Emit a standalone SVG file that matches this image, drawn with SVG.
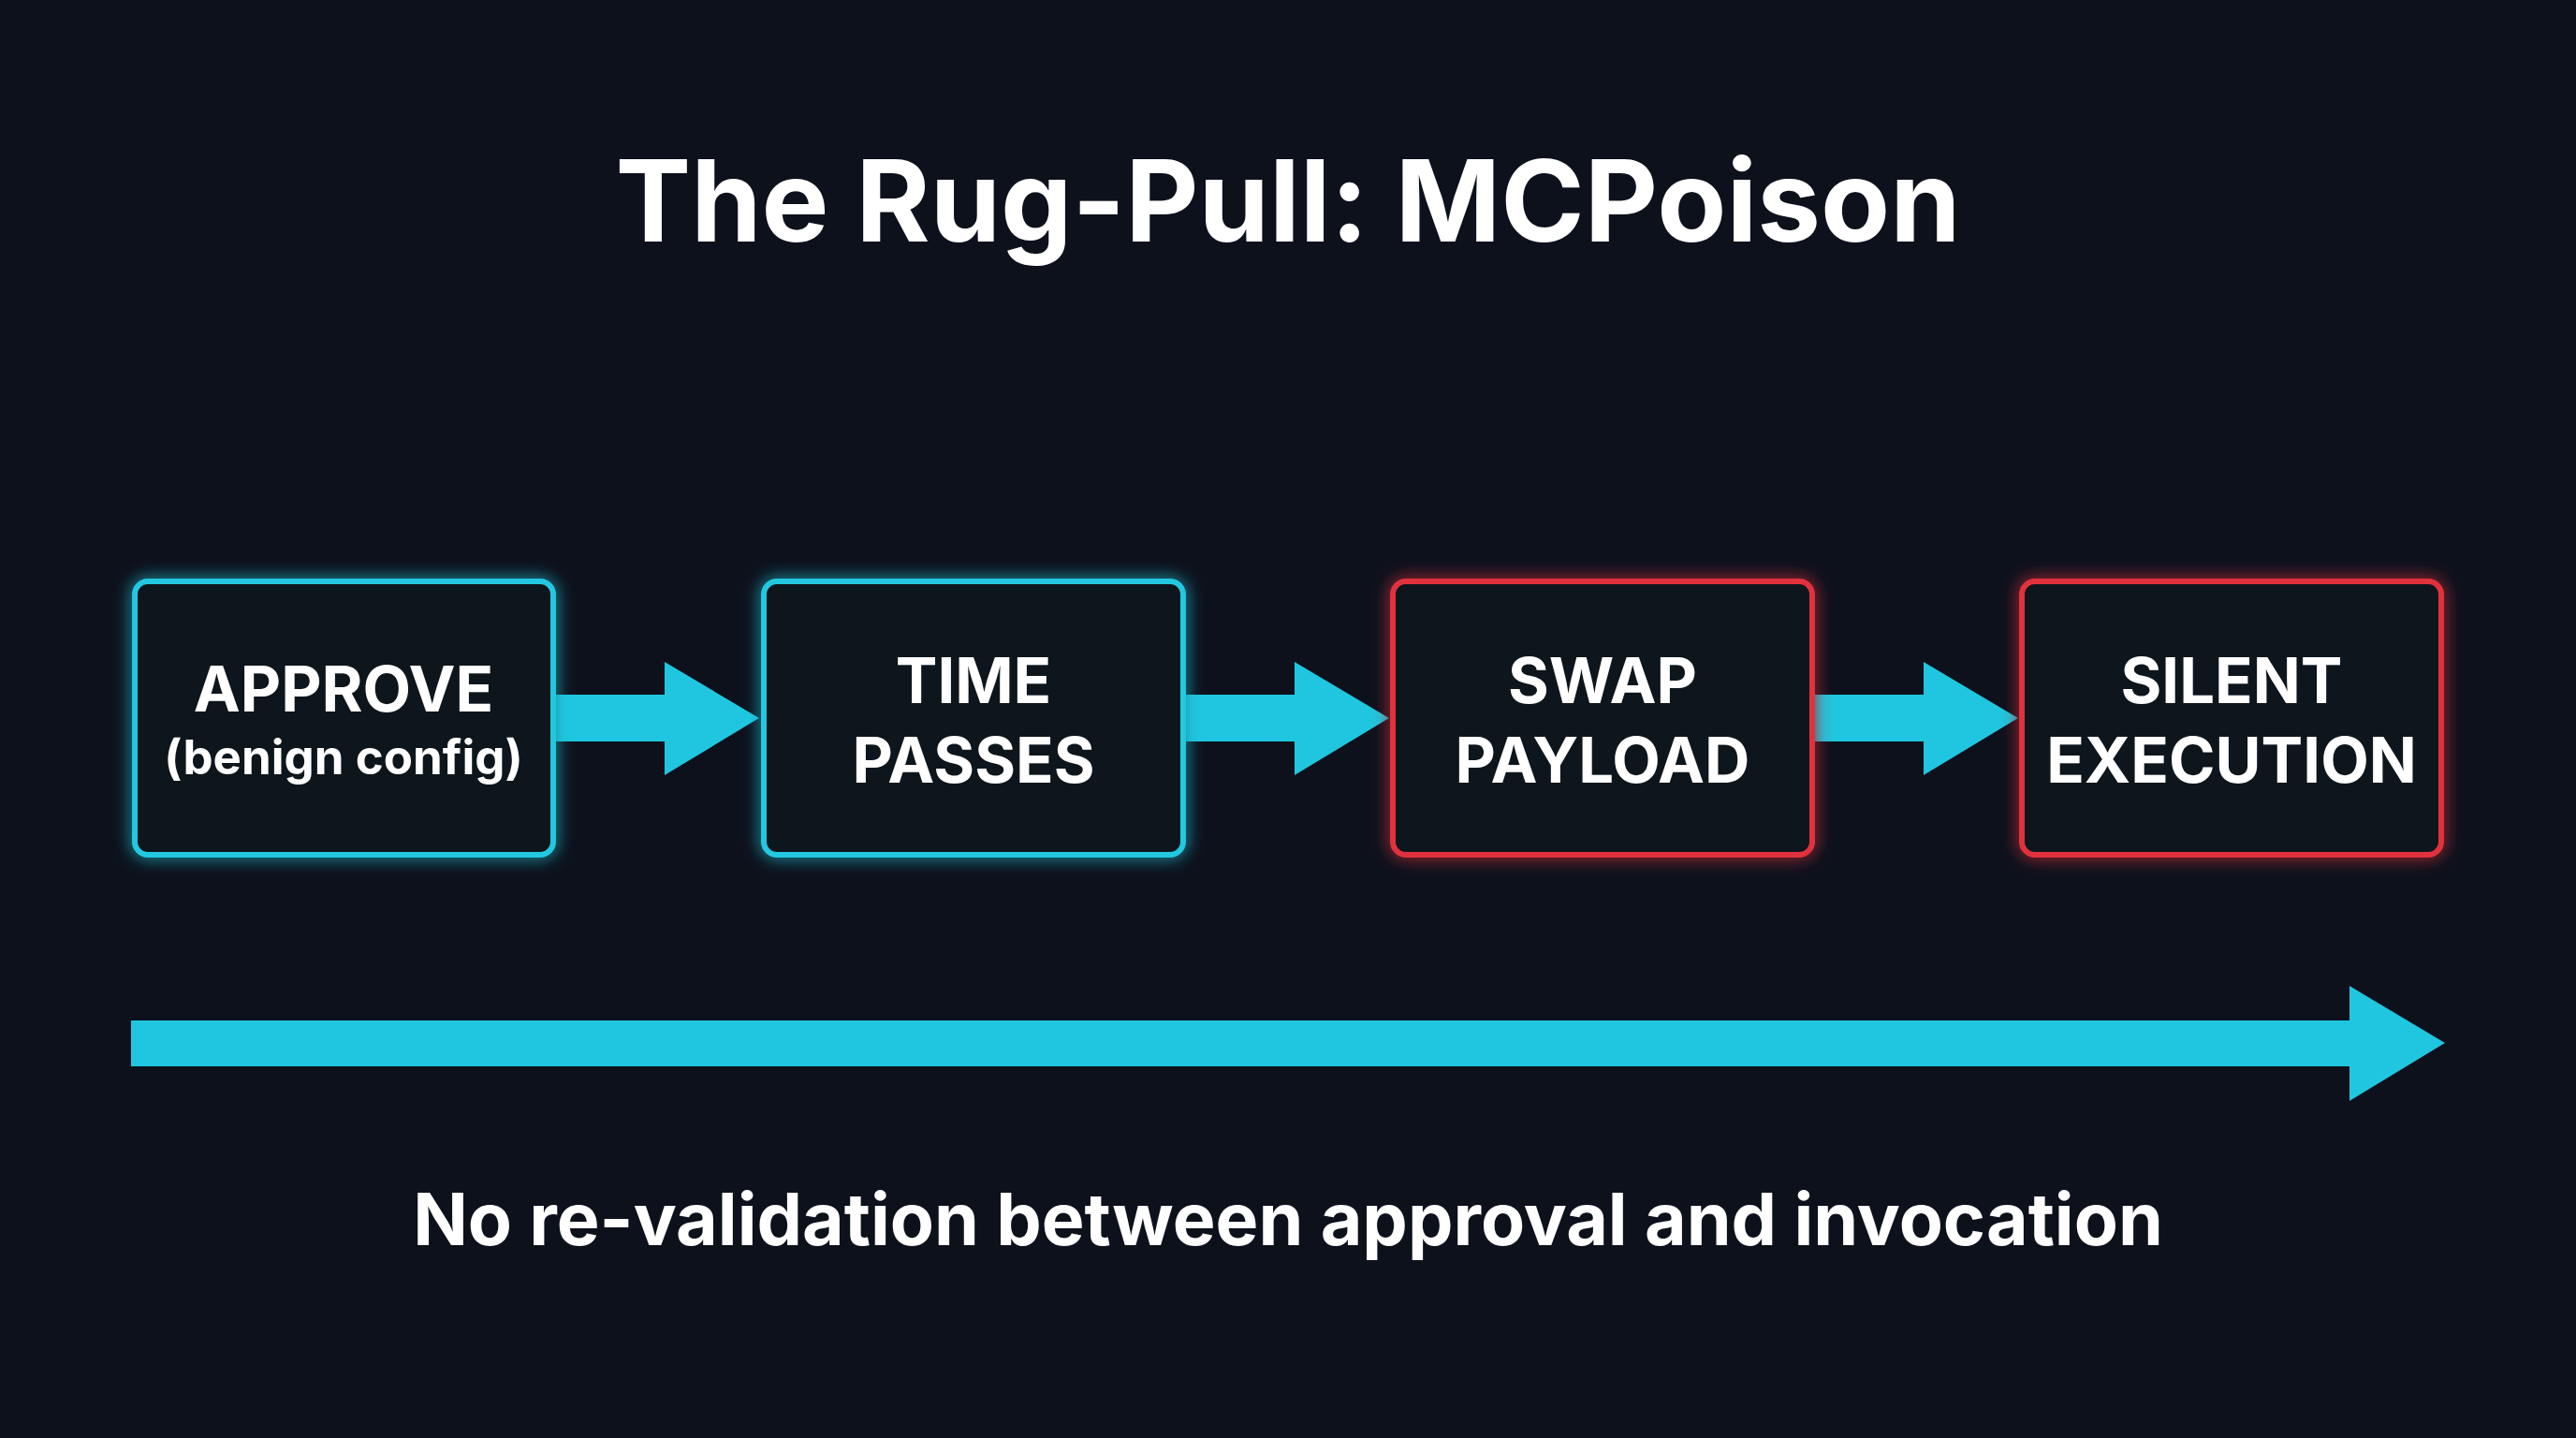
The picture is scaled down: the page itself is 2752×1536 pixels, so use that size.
<svg xmlns="http://www.w3.org/2000/svg" width="2752" height="1536" viewBox="0 0 2752 1536">
<defs>
<filter id="glow" x="-20%" y="-20%" width="140%" height="140%"><feGaussianBlur stdDeviation="9" result="b"/><feMerge><feMergeNode in="b"/><feMergeNode in="SourceGraphic"/></feMerge></filter>
<style>
text{font-family:Inter,"Noto Sans",sans-serif;fill:#fff;font-weight:700;text-anchor:middle}
.c{fill:#0e121b;stroke:#22c8e0;stroke-width:6}
.r{fill:#0e121b;stroke:#e0323c;stroke-width:6}
.a{fill:#20c6df}
.t{font-size:67px}
</style>
</defs>
<rect width="2752" height="1536" fill="#0d111c"/>
<text x="1376" y="258" font-size="121">The Rug-Pull: MCPoison</text>
<g id="connectors">
<polygon class="a" points="591,742 710,742 710,707 811,767 710,828 710,792 591,792"/>
<polygon class="a" points="1264,742 1383,742 1383,707 1484,767 1383,828 1383,792 1264,792"/>
<polygon class="a" points="1936,742 2055,742 2055,707 2156,767 2055,828 2055,792 1936,792"/>
<polygon class="a" points="140,1090 2510,1090 2510,1053 2612,1114 2510,1176 2510,1139 140,1139"/>
</g>
<g id="approve"><rect class="c" x="144" y="621" width="447" height="292" rx="14" filter="url(#glow)"/>
<text class="t" x="367" y="760">APPROVE</text><text x="367" y="827" font-size="51">(benign config)</text></g>
<g id="time"><rect class="c" x="816" y="621" width="448" height="292" rx="14" filter="url(#glow)"/>
<text class="t" x="1040" y="751">TIME</text><text class="t" x="1040" y="836">PASSES</text></g>
<g id="swap"><rect class="r" x="1488" y="621" width="448" height="292" rx="14" filter="url(#glow)"/>
<text class="t" x="1712" y="751">SWAP</text><text class="t" x="1712" y="836">PAYLOAD</text></g>
<g id="silent"><rect class="r" x="2160" y="621" width="448" height="292" rx="14" filter="url(#glow)"/>
<text class="t" x="2384" y="751">SILENT</text><text class="t" x="2384" y="836">EXECUTION</text></g>
<text x="1376" y="1330" font-size="77">No re-validation between approval and invocation</text>
</svg>
